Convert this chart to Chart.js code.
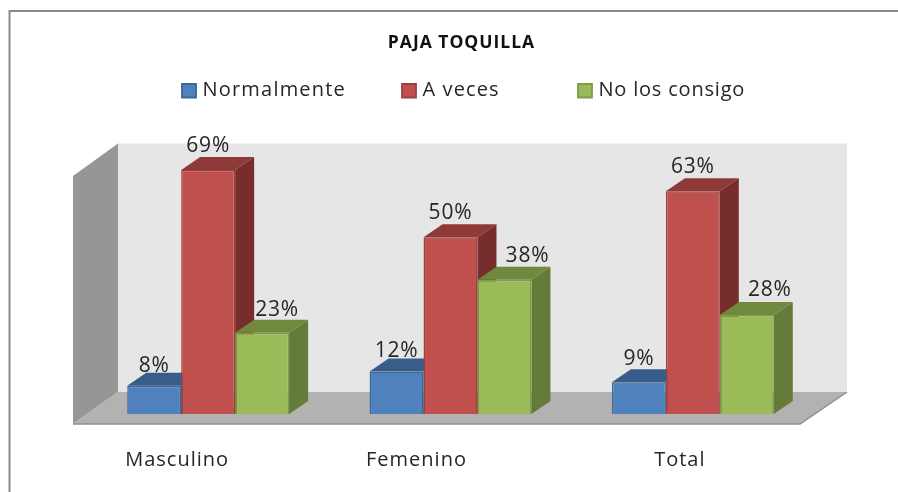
<!DOCTYPE html>
<html><head><meta charset="utf-8">
<script src="https://cdn.jsdelivr.net/npm/chart.js@4"></script>
<style>
html,body{margin:0;padding:0;background:#fff}
#wrap{position:relative;width:898px;height:492px;overflow:hidden}
canvas{display:block;filter:blur(0.4px)}
</style></head><body>
<div id="wrap"><canvas id="c" width="898" height="492"></canvas></div>
<script>
const categories = ["Masculino", "Femenino", "Total"];
const normalmente = [8, 12, 9];
const aVeces = [69, 50, 63];
const noLosConsigo = [23, 38, 28];
const seriesNames = ["Normalmente", "A veces", "No los consigo"];
const titleText = "PAJA TOQUILLA";

const FONT = '"Open Sans", sans-serif';
const faces = ["#4F81BD", "#C0504D", "#9BBB59"];
const edges = ["#3B6796", "#9C403E", "#7F9A48"];
const tops = ["#385D8A", "#8F3A38", "#71893F"];
const sides = ["#2F4E74", "#772D2B", "#657B3A"];
const depthX = 19, depthY = 13;
const labelDX = [[0, 0, 0], [0, 0, 0], [15, 23, 23]];
const labelDY = [[-20, -21, -23], [-24, -24, -24], [-23, -24, -25]];

function poly(ctx, pts, fill, stroke, width) {
  ctx.beginPath();
  pts.forEach((p, i) => i ? ctx.lineTo(p[0], p[1]) : ctx.moveTo(p[0], p[1]));
  ctx.closePath();
  ctx.fillStyle = fill; ctx.fill();
  if (stroke) { ctx.strokeStyle = stroke; ctx.lineWidth = width || 1; ctx.stroke(); }
}
function txt(ctx, s, cx, cy, size, spacing, color) {
  ctx.save();
  ctx.font = "normal " + size + "px " + FONT;
  ctx.letterSpacing = spacing + "px";
  ctx.textAlign = "center"; ctx.textBaseline = "middle";
  ctx.fillStyle = color || "#222";
  ctx.fillText(s, cx, cy);
  ctx.restore();
}

const scene = {
  id: "scene",
  afterLayout(chart) {
    // the title sits a little right of the canvas centre
    chart.titleBlock.left += 11; chart.titleBlock.right += 11;
  },
  beforeDraw(chart) {
    const ctx = chart.ctx, x = chart.scales.x, y = chart.scales.y;
    const L = x.left, R = x.right, b = y.getPixelForValue(0), t = y.getPixelForValue(70);
    const fl = L - 14, bl = L + 31, br = R + 33, fr = R - 14;
    const fy = b + 10, by = b - 22;
    ctx.save();
    // outer frame (open on the right and at the bottom)
    ctx.strokeStyle = "#8A8A8A"; ctx.lineWidth = 2;
    ctx.beginPath(); ctx.moveTo(9.5, 492); ctx.lineTo(9.5, 11); ctx.lineTo(898, 11); ctx.stroke();
    // back wall, side wall, floor
    poly(ctx, [[bl, t - 23], [br, t - 23], [br, by], [bl, by]], "#E6E6E6");
    poly(ctx, [[fl, t + 9.5], [bl, t - 23], [bl, by], [fl, fy]], "#969696");
    poly(ctx, [[fl, fy], [bl, by], [br, by], [fr, fy]], "#B2B2B2");
    ctx.strokeStyle = "#8E8E8E"; ctx.lineWidth = 1.5;
    ctx.beginPath(); ctx.moveTo(fl, fy); ctx.lineTo(fr, fy); ctx.lineTo(br, by); ctx.stroke();
    ctx.restore();
    // the title box is drawn next and picks up this spacing
    ctx.letterSpacing = "1px";
  },
  beforeDatasetsDraw(chart) {
    const ctx = chart.ctx;
    ctx.letterSpacing = "0px";
    ctx.save();
    chart.data.datasets.forEach((d, i) => {
      chart.getDatasetMeta(i).data.forEach(el => {
        const l = el.x - el.width / 2, r = el.x + el.width / 2, top = el.y, base = el.base;
        poly(ctx, [[r, top], [r + depthX, top - depthY], [r + depthX, base - depthY], [r, base]], sides[i]);
        poly(ctx, [[l, top], [l + depthX, top - depthY], [r + depthX, top - depthY], [r, top]], tops[i]);
      });
    });
    ctx.restore();
  },
  afterDatasetsDraw(chart) {
    const ctx = chart.ctx, x = chart.scales.x;
    // value labels
    chart.data.datasets.forEach((d, i) => {
      chart.getDatasetMeta(i).data.forEach((el, j) => {
        txt(ctx, d.data[j] + "%", el.x + labelDX[i][j], el.y + labelDY[i][j], 21, 0.8, "#262626");
      });
    });
    // category labels
    const catShift = [-31, -34, -13];
    categories.forEach((c, j) => {
      txt(ctx, c, x.getPixelForValue(j) + catShift[j], 460.5, 20, 1, "#262626");
    });
    // legend
    const swatchX = [181, 401, 577];
    const legendSpacing = [1.2, 1.1, 0.8];
    seriesNames.forEach((n, i) => {
      const sx = swatchX[i];
      poly(ctx, [[sx + 1, 84], [sx + 15, 84], [sx + 15, 97.5], [sx + 1, 97.5]], faces[i], edges[i], 1.8);
      ctx.save();
      ctx.font = "normal 20px " + FONT; ctx.letterSpacing = legendSpacing[i] + "px";
      ctx.textAlign = "left"; ctx.textBaseline = "middle"; ctx.fillStyle = "#262626";
      ctx.fillText(n, sx + 21.5, 90);
      ctx.restore();
    });
  }
};

new Chart(document.getElementById("c"), {
  type: "bar",
  data: {
    labels: categories,
    datasets: [normalmente, aVeces, noLosConsigo].map((v, i) => ({
      label: seriesNames[i], data: v,
      backgroundColor: faces[i], borderColor: edges[i], borderWidth: 1.5,
      categoryPercentage: 0.668, barPercentage: 1
    }))
  },
  options: {
    responsive: false, animation: false,
    layout: { padding: { left: 87, right: 84, top: 33, bottom: 78 } },
    plugins: {
      legend: { display: false },
      tooltip: { enabled: false },
      title: { display: true, text: titleText, color: "#111", font: { family: '"Open Sans"', size: 17.5, weight: "bold", lineHeight: 1.2 }, padding: { top: 0, bottom: 112.5 } }
    },
    scales: {
      x: { display: false },
      y: { display: false, min: 0, max: 70 }
    }
  },
  plugins: [scene]
});
</script>
</body></html>
